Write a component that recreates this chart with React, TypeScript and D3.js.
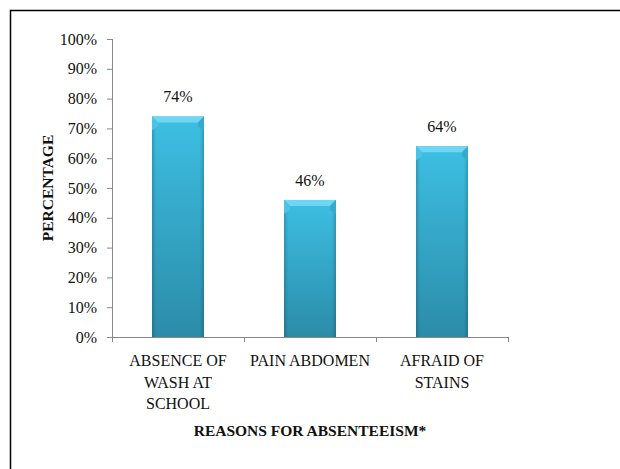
import React from "react";
import * as d3 from "d3";

const categories = [["ABSENCE OF", "WASH AT", "SCHOOL"], ["PAIN ABDOMEN"], ["AFRAID OF", "STAINS"]];
const values = [0.74, 0.46, 0.64];
const valueLabels = ["74%", "46%", "64%"];
const yTicks = [0, 0.1, 0.2, 0.3, 0.4, 0.5, 0.6, 0.7, 0.8, 0.9, 1.0];

const W = 620, H = 469;
const left = 112, right = 508, top = 39, bottom = 337;

export default function App() {
  const x = d3.scaleBand<number>().domain(d3.range(values.length)).range([left, right]).paddingInner(0).paddingOuter(0);
  const y = d3.scaleLinear().domain([0, 1]).range([bottom, top]);
  const bw = 52;
  const font = "Times New Roman, Liberation Serif, Times, serif";
  const bev = 6;
  return (
    <svg width={W} height={H} style={{ position: "absolute", left: 0, top: 0, fontFamily: font }}>
      <defs>
        <linearGradient id="barg" x1="0" y1="0" x2="0" y2="1">
          <stop offset="0" stopColor="#3dbfe3" />
          <stop offset="1" stopColor="#2b8ca9" />
        </linearGradient>
        <linearGradient id="sideg" x1="0" y1="0" x2="1" y2="0">
          <stop offset="0" stopColor="#000" stopOpacity="0.18" />
          <stop offset="0.08" stopColor="#000" stopOpacity="0" />
          <stop offset="0.92" stopColor="#000" stopOpacity="0" />
          <stop offset="1" stopColor="#000" stopOpacity="0.18" />
        </linearGradient>
      </defs>
      <rect x={0} y={0} width={W} height={H} fill="#fff" />
      <rect x={10.5} y={10.5} width={640} height={500} fill="none" stroke="#000" strokeWidth={1.5} />
      {values.map((v, i) => {
        const cx = (x(i) as number) + x.bandwidth() / 2;
        const x0 = cx - bw / 2, x1 = cx + bw / 2;
        const yt = y(v);
        return (
          <g key={i}>
            <rect x={x0} y={yt} width={bw} height={bottom - yt} fill="url(#barg)" />
            <rect x={x0} y={yt} width={bw} height={bottom - yt} fill="url(#sideg)" />
            <polygon points={`${x0},${yt} ${x1},${yt} ${x1 - bev},${yt + bev} ${x0 + bev},${yt + bev}`} fill="#6fd6f3" />
            <polygon points={`${x0},${yt} ${x0 + bev},${yt + bev} ${x0 + bev},${yt + bev + 4} ${x0},${yt + bev + 8}`} fill="#4cc3e6" />
            <polygon points={`${x1},${yt} ${x1 - bev},${yt + bev} ${x1 - bev},${yt + bev + 4} ${x1},${yt + bev + 8}`} fill="#37a9cc" />
            <text x={cx} y={yt - 14} textAnchor="middle" fontSize={16} fill="#111">{valueLabels[i]}</text>
          </g>
        );
      })}
      <line x1={left + 0.5} y1={top} x2={left + 0.5} y2={bottom} stroke="#888" strokeWidth={1} />
      <line x1={left - 5} y1={bottom + 0.5} x2={right} y2={bottom + 0.5} stroke="#888" strokeWidth={1} />
      {yTicks.map((t) => (
        <g key={t}>
          <line x1={left - 5} x2={left} y1={y(t) + 0.5} y2={y(t) + 0.5} stroke="#888" />
          <text x={left - 15} y={y(t) + 5.5} textAnchor="end" fontSize={16} fill="#111">{`${Math.round(t * 100)}%`}</text>
        </g>
      ))}
      {d3.range(values.length + 1).map((i) => {
        const tx = (i < values.length ? (x(i) as number) : right) + 0.5;
        return <line key={i} x1={tx} x2={tx} y1={bottom} y2={bottom + 5} stroke="#888" />;
      })}
      {categories.map((lines, i) => {
        const cx = (x(i) as number) + x.bandwidth() / 2;
        return (
          <text key={i} textAnchor="middle" fontSize={16} fill="#111">
            {lines.map((l, j) => (
              <tspan key={j} x={cx} y={366 + j * 21.7}>{l}</tspan>
            ))}
          </text>
        );
      })}
      <text x={310} y={436} textAnchor="middle" fontSize={15.5} fontWeight="bold" fill="#111">REASONS FOR ABSENTEEISM*</text>
      <text transform={`translate(53,${(top + bottom) / 2}) rotate(-90)`} textAnchor="middle" fontSize={15.5} fontWeight="bold" fill="#111">PERCENTAGE</text>
    </svg>
  );
}
